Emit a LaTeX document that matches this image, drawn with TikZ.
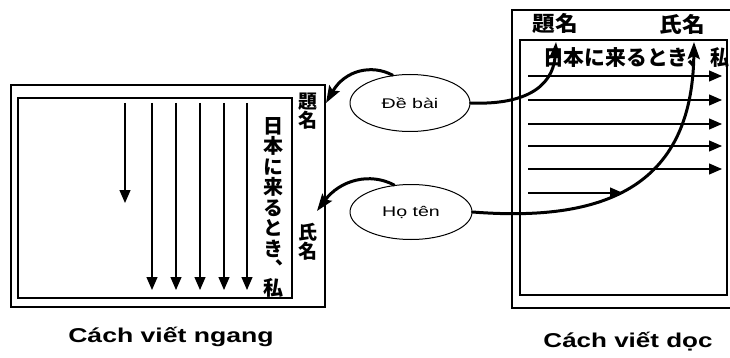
\documentclass[tikz,border=0pt]{standalone}
\usepackage{fontspec}
\usepackage{graphicx}
\setmainfont{Liberation Sans}
\newfontfamily\jp{Noto Sans CJK JP}
\newfontfamily\jpvert[RawFeature=+vert]{Noto Sans CJK JP}
\usetikzlibrary{arrows.meta,shapes.geometric}
\tikzset{
  frame/.style={draw=black, line width=1.3pt},
  flow/.style={draw=black, line width=1.2pt, -{Triangle[length=13pt,width=11pt]}},
  link/.style={draw=black, line width=3pt, line cap=round, -{Stealth[length=17pt,width=12pt,inset=3pt]}},
  bubble/.style={draw=black, line width=1pt, ellipse, inner sep=0pt},
  jpv/.style={font=\jpvert\bfseries\fontsize{20}{20.5}\selectfont, align=center, inner sep=0pt},
  jpl/.style={font=\jpvert\bfseries\fontsize{19}{19}\selectfont, align=center, inner sep=0pt},
  jph/.style={font=\jp\bfseries\fontsize{21}{21}\selectfont, inner sep=0pt},
  caption/.style={font=\bfseries\fontsize{20}{21}\selectfont, inner sep=0pt},
  bubtext/.style={font=\fontsize{14}{15}\selectfont, inner sep=0pt}
}
\begin{document}
\begin{tikzpicture}[x=1pt,y=-1pt]
\useasboundingbox (0,0) rectangle (730,358);
\fill[white] (0,0) rectangle (730,358);
% ---------- left page ----------
\draw[frame] (11,85) rectangle (325,307);
\draw[frame] (18,98) rectangle (292,298);
\node[jpl, anchor=north] (lt) at (308,93) {題\\名};
\node[jpl, anchor=north] (ln) at (308,223) {氏\\名};
\node[jpv, anchor=north] (lv) at (273,117) {日\\本\\に\\来\\る\\と\\き\\、\\[-2pt]私};
\foreach \i/\x in {1/152,2/176,3/200,4/224,5/247}{
  \coordinate (ls\i) at (\x,103);
  \coordinate (le\i) at (\x,290);
  \draw[flow] (ls\i) -- (le\i);
}
\coordinate (ls0) at (125,103);
\coordinate (le0) at (125,203);
\draw[flow] (ls0) -- (le0);
% ---------- right page ----------
\draw[frame] (731,10) -- (512,10) -- (512,308) -- (731,308);
\draw[frame] (520,40) rectangle (727,295);
\node[jph] (rt) at (555,24) {\scalebox{1.08}[1]{題名}};
\node[jph] (rn) at (682,24) {\scalebox{1.08}[1]{氏名}};
\node[jph, anchor=west] (rh) at (543,58) {\scalebox{0.99}[1]{日本に来るとき、}};
\node[jph] (rwa) at (719.5,58) {\scalebox{0.9}[1]{私}};
\foreach \i/\y in {1/76,2/100,3/124,4/146,5/169}{
  \coordinate (rs\i) at (528,\y);
  \coordinate (re\i) at (722,\y);
  \draw[flow] (rs\i) -- (re\i);
}
\coordinate (rs6) at (528,193);
\coordinate (re6) at (623,193);
\draw[flow] (rs6) -- (re6);
% ---------- bubbles ----------
\node[bubble, minimum width=120pt, minimum height=57pt] (ed) at (410,103) {};
\node[bubtext] at (ed.center) {\scalebox{1.4}[1]{Đề bài}};
\node[bubble, minimum width=122pt, minimum height=55pt] (ht) at (411,212) {};
\node[bubtext] at (ht.center) {\scalebox{1.4}[1]{Họ tên}};
% targets
\coordinate (edL) at (326,103);
\coordinate (edR) at (556,42);
\coordinate (htL) at (317,211);
\coordinate (htR) at (694,42);
\draw[link] (ed.122) .. controls (372,64) and (345,70) .. (edL);
\draw[link] (ed.east) .. controls (520,105) and (553,90) .. (edR);
\draw[link] (ht.122) .. controls (370,172) and (340,180) .. (htL);
\draw[link] (ht.east) .. controls (600,222) and (692,190) .. (htR);
% ---------- captions ----------
\node[caption] (cl) at (171,337) {\scalebox{1.33}[1]{Cách viết ngang}};
\node[caption] (cr) at (628,342) {\scalebox{1.3}[1]{Cách viết dọc}};
\end{tikzpicture}
\end{document}
